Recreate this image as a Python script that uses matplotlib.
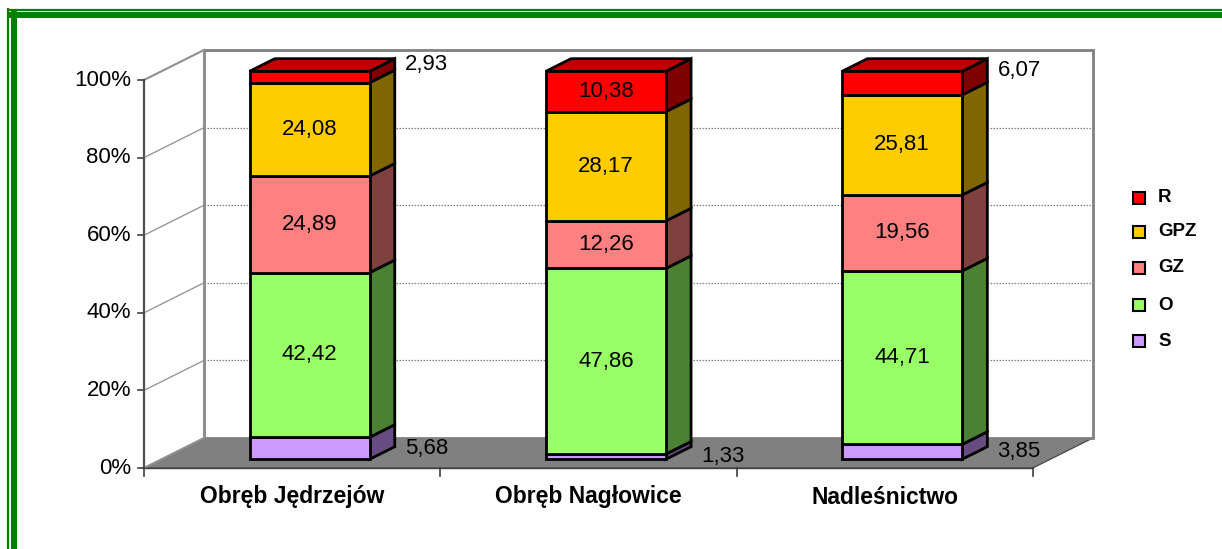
import matplotlib.pyplot as plt
from matplotlib.patches import Polygon, Rectangle
from matplotlib.lines import Line2D

plt.rcParams['font.family'] = ['Liberation Sans', 'DejaVu Sans']

categories = ['Obręb Jędrzejów', 'Obręb Nagłowice', 'Nadleśnictwo']
series = ['S', 'O', 'GZ', 'GPZ', 'R']
S = [5.68, 1.33, 3.85]
O = [42.42, 47.86, 44.71]
GZ = [24.89, 12.26, 19.56]
GPZ = [24.08, 28.17, 25.81]
R = [2.93, 10.38, 6.07]
values = [S, O, GZ, GPZ, R]
yticks = [0, 20, 40, 60, 80, 100]

front_colors = ['#CC99FF', '#99FF66', '#FF8080', '#FFCC00', '#FF0000']
side_colors = ['#664C80', '#4C8033', '#804040', '#806600', '#800000']
top_colors = ['#9973BF', '#73BF4C', '#BF6060', '#BF9900', '#C00000']

W, H = 1222, 549
fig = plt.figure(figsize=(W / 100, H / 100), dpi=100)
ax = fig.add_axes([0, 0, 1, 1])
ax.axis('off')

# pixel layout of the front plane: x 144..1033 for 3 categories, y 468 (0%) .. 80 (100%)
x0px, catpx = 144, 296.3
y0px, pctpx = 468, 3.88
ax.set_xlim(-x0px / catpx, (W - x0px) / catpx)
ax.set_ylim((y0px - H) / pctpx, y0px / pctpx)

DX = 60 / catpx   # depth offset in category units
DY = 30 / pctpx   # depth offset in percent units


def proj(x, y, d):
    return (x + d * DX, y + d * DY)


n = len(categories)

# floor
floor = Polygon([proj(0, 0, 0), proj(n, 0, 0), proj(n, 0, 1), proj(0, 0, 1)],
                closed=True, fc='#808080', ec='#404040', lw=0.8, zorder=1)
ax.add_patch(floor)

# back wall
bl = proj(0, 0, 1)
tr = proj(n, 100, 1)
ax.add_patch(Rectangle(bl, tr[0] - bl[0], tr[1] - bl[1], fc='white',
                       ec='#808080', lw=2, zorder=1))
# side wall
ax.add_patch(Polygon([proj(0, 0, 0), proj(0, 100, 0), proj(0, 100, 1), proj(0, 0, 1)],
                     closed=True, fc='white', ec='#909090', lw=1.5, zorder=1))
ax.plot(*zip(proj(0, 0, 0), proj(0, 100, 0)), color='#505050', lw=1.6, zorder=2)

for v in yticks[1:-1]:
    ax.plot(*zip(proj(0, v, 1), proj(n, v, 1)), color='#808080', lw=0.9,
            ls=(0, (1.2, 1.2)), zorder=2)
    ax.plot(*zip(proj(0, v, 0), proj(0, v, 1)), color='#909090', lw=0.9, zorder=2)

# y ticks and labels
for v in yticks:
    ax.plot([-6 / catpx, 0], [v, v], color='#404040', lw=1.2, zorder=2)
    ax.text(-13 / catpx, v, f'{v}%', ha='right', va='center', fontsize=16, color='black')

# x axis front edge and ticks
ax.plot([0, n], [0, 0], color='#404040', lw=1.0, zorder=2)
for i in range(n + 1):
    ax.plot([i, i], [0, -8 / pctpx], color='#404040', lw=1.2, zorder=2)
for i, c in enumerate(categories):
    ax.text(i + 0.5, -29 / pctpx, c, ha='center', va='center', fontsize=16.5,
            fontweight='bold')

# bars
bw = 120 / catpx
d0, d1 = 0.29, 0.71
for i in range(n):
    xa = i + 0.5 - bw / 2
    xb = i + 0.5 + bw / 2
    bottom = 0
    for k, ser in enumerate(values):
        v = ser[i]
        top = bottom + v
        front = Polygon([proj(xa, bottom, d0), proj(xb, bottom, d0),
                         proj(xb, top, d0), proj(xa, top, d0)],
                        closed=True, fc=front_colors[k], ec='black', lw=2,
                        joinstyle='miter', zorder=4)
        side = Polygon([proj(xb, bottom, d0), proj(xb, bottom, d1),
                        proj(xb, top, d1), proj(xb, top, d0)],
                       closed=True, fc=side_colors[k], ec='black', lw=2,
                       joinstyle='miter', zorder=3)
        ax.add_patch(side)
        ax.add_patch(front)
        if k == len(values) - 1:
            ax.add_patch(Polygon([proj(xa, top, d0), proj(xb, top, d0),
                                  proj(xb, top, d1), proj(xa, top, d1)],
                                 closed=True, fc=top_colors[k], ec='black', lw=2,
                                 joinstyle='miter', zorder=3))
        label = f'{v:.2f}'.replace('.', ',')
        mid = (bottom + top) / 2
        if v >= 7:
            ax.text(*proj(i + 0.5, mid, d0), label, ha='center', va='center',
                    fontsize=16, zorder=6)
        else:
            d = d1 if k == len(values) - 1 else d0
            ax.text(xb + d0 * DX + 57 / catpx, proj(0, mid, d)[1], label,
                    ha='center', va='center', fontsize=16, zorder=6)
        bottom = top

# legend
leg_y = [198, 232, 268, 305, 341]
for k in range(len(series)):
    idx = len(series) - 1 - k
    y = 1 - leg_y[k] / H
    fig.patches.append(Rectangle(((1133) / W, y - 6 / H), 12 / W, 12 / H,
                                 transform=fig.transFigure, fc=front_colors[idx],
                                 ec='black', lw=1.5))
    fig.text(1158 / W, y, series[idx], ha='left', va='center', fontsize=13.5,
             fontweight='bold')

# green frame
g = '#008000'
fig.add_artist(Line2D([8 / W, 8 / W], [0, 1 - 8.5 / H], transform=fig.transFigure, color=g, lw=1.6))
fig.add_artist(Line2D([8 / W, 1], [1 - 9.5 / H, 1 - 9.5 / H], transform=fig.transFigure, color=g, lw=1.6))
fig.add_artist(Line2D([13.5 / W, 13.5 / W], [0, 1 - 12 / H], transform=fig.transFigure, color=g, lw=4.3))
fig.add_artist(Line2D([11.5 / W, 1], [1 - 14.5 / H, 1 - 14.5 / H], transform=fig.transFigure, color=g, lw=4.3))

fig.savefig('out.png', dpi=100)
